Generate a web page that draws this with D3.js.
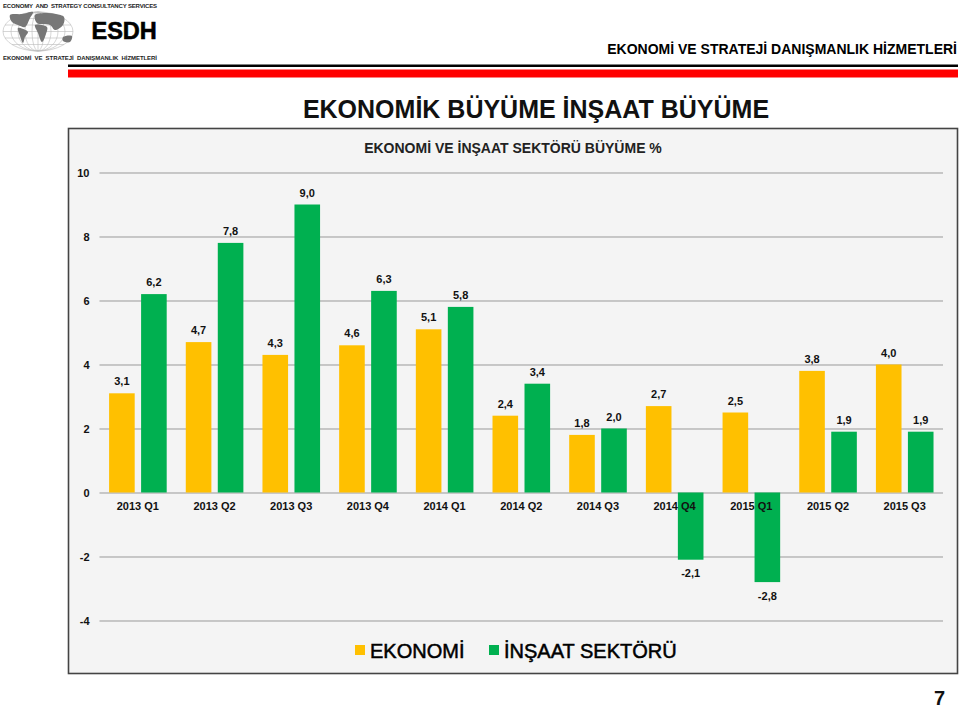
<!DOCTYPE html>
<html><head><meta charset="utf-8">
<script src="https://cdn.jsdelivr.net/npm/d3@7"></script>
<style>html,body{margin:0;padding:0;background:#fff}svg{display:block}text{font-family:"Liberation Sans",Arial,sans-serif}</style>
</head><body><svg id="c" width="960" height="710"></svg>
<script>
const categories=["2013 Q1","2013 Q2","2013 Q3","2013 Q4","2014 Q1","2014 Q2","2014 Q3","2014 Q4","2015 Q1","2015 Q2","2015 Q3"];
const ekonomi=[3.1,4.7,4.3,4.6,5.1,2.4,1.8,2.7,2.5,3.8,4.0];
const insaat=[6.2,7.8,9.0,6.3,5.8,3.4,2.0,-2.1,-2.8,1.9,1.9];
const yTicks=[10,8,6,4,2,0,-2,-4];
const seriesNames=["EKONOMİ","İNŞAAT SEKTÖRÜ"];
const colors=["#FFC000","#00B050"];
const fmt=v=>v.toFixed(1).replace(".",",");

const svg=d3.select("#c");
const y=d3.scaleLinear().domain([-4,10]).range([620.5,172.5]);
const x=d3.scaleBand().domain(categories).range([99.5,943]).paddingInner(0).paddingOuter(0);
const inner=d3.scaleBand().domain([0,1]).range([9.6,67.2]).paddingInner(0.2);

const t=(s,px,py,size,anchor,weight,fill)=>svg.append("text").attr("x",px).attr("y",py).attr("font-size",size)
  .attr("text-anchor",anchor||"start").attr("font-weight",weight||"bold").attr("fill",fill||"#000").text(s);

// logo block
t("ECONOMY  AND  STRATEGY CONSULTANCY SERVICES",3,8,6,"start","bold","#222")
  .attr("xml:space","preserve").style("white-space","pre").attr("textLength",154).attr("lengthAdjust","spacing");
t("ESDH",91.5,39,23.5,"start","bold").attr("stroke","#000").attr("stroke-width",.6);
t("EKONOMİ  VE  STRATEJİ  DANIŞMANLIK  HİZMETLERİ",3,60,6,"start","bold","#222")
  .attr("xml:space","preserve").style("white-space","pre").attr("textLength",154).attr("lengthAdjust","spacing");
const g=svg.append("g").attr("fill","none").attr("stroke","#bbb").attr("stroke-width",.6);
const gx=38,gy=31.5,rx=35,ry=19.5;
g.append("ellipse").attr("cx",gx).attr("cy",gy).attr("rx",rx).attr("ry",ry);
[6,13,20,27].forEach(d=>g.append("ellipse").attr("cx",gx).attr("cy",gy).attr("rx",d).attr("ry",ry));
g.append("line").attr("x1",gx).attr("x2",gx).attr("y1",gy-ry).attr("y2",gy+ry);
[-13,-6.5,0,6.5,13].forEach(d=>{const w=rx*Math.sqrt(1-d*d/(ry*ry));
  g.append("line").attr("x1",gx-w).attr("x2",gx+w).attr("y1",gy+d).attr("y2",gy+d);});
const blob=d3.line().curve(d3.curveCatmullRomClosed.alpha(.5));
const land=[
 [[10,15],[22,14],[33,12],[30,18],[25,27],[18,25],[12,22]],
 [[18,28],[28,32],[25,37],[23,43],[20,36]],
 [[35,15],[47,13],[56,14],[64,17],[63,25],[55,30],[50,25],[37,23]],
 [[35,25],[47,27],[46,34],[42,42],[38,33]],
 [[63,37],[72,36],[70,42],[63,41]]];
land.forEach(p=>svg.append("path").attr("d",blob(p)).attr("fill","#777"));

// page header
t("EKONOMİ VE STRATEJİ DANIŞMANLIK HİZMETLERİ",957,54,14,"end");
svg.append("rect").attr("x",68).attr("y",64.5).attr("width",890).attr("height",2.5).attr("fill","#000");
svg.append("rect").attr("x",68).attr("y",69.5).attr("width",890).attr("height",8).attr("fill","#FF0000");
t("EKONOMİK BÜYÜME İNŞAAT BÜYÜME",536,118,25,"middle","bold","#111");

// plot panel
svg.append("rect").attr("x",68.5).attr("y",128.5).attr("width",889).attr("height",545).attr("fill","#F4F4F4").attr("stroke","#444").attr("stroke-width",1.6);
t("EKONOMİ VE İNŞAAT SEKTÖRÜ BÜYÜME %",513,153,14,"middle","bold","#222");

const ax=svg.append("g").attr("transform","translate(99.5,0)").call(d3.axisLeft(y).tickValues(yTicks).tickSize(-843.5).tickPadding(10).tickFormat(d=>String(d)));
ax.select(".domain").remove();
ax.selectAll("line").attr("stroke","#999").attr("stroke-width",1);
ax.selectAll("text").attr("font-size",11).attr("font-weight","bold").attr("fill","#111").attr("font-family",'"Liberation Sans",Arial,sans-serif');

[ekonomi,insaat].forEach((vals,s)=>{
  const gs=svg.append("g");
  gs.selectAll("rect").data(vals).join("rect")
    .attr("x",(d,i)=>x(categories[i])+inner(s)).attr("width",inner.bandwidth())
    .attr("y",d=>y(Math.max(d,0))).attr("height",d=>Math.abs(y(d)-y(0))).attr("fill",colors[s]);
});
// labels drawn after all bars, so the category text sits over the negative bars
[ekonomi,insaat].forEach((vals,s)=>{
  svg.append("g").selectAll("text").data(vals).join("text")
    .attr("x",(d,i)=>x(categories[i])+inner(s)+inner.bandwidth()/2)
    .attr("y",d=>d>=0?y(d)-8:y(d)+17.5)
    .attr("text-anchor","middle").attr("font-size",11).attr("font-weight","bold").attr("fill","#111").text(fmt);
});
svg.append("g").selectAll("text").data(categories).join("text")
  .attr("x",d=>x(d)+x.bandwidth()/2).attr("y",510)
  .attr("text-anchor","middle").attr("font-size",11).attr("font-weight","bold").attr("fill","#111").text(d=>d);

const legX=[355,489], legT=[370,504];
seriesNames.forEach((n,i)=>{
  svg.append("rect").attr("x",legX[i]).attr("y",645).attr("width",10).attr("height",10).attr("fill",colors[i]);
  t(n,legT[i],657.5,20,"start","normal","#000").attr("stroke","#000").attr("stroke-width",.5);
});
t("7",945,705,20,"end","bold","#111");
</script></body></html>
